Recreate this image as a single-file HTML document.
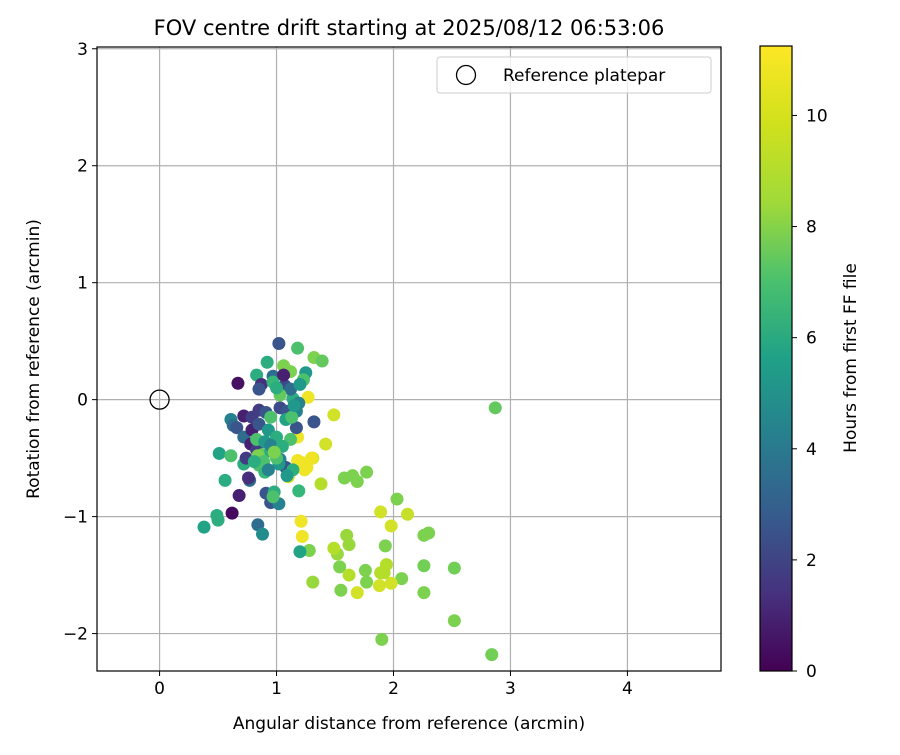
<!DOCTYPE html>
<html><head><meta charset="utf-8"><style>
body{margin:0;background:#fff}
svg text{font-family:"DejaVu Sans","Liberation Sans",sans-serif;fill:#000}
</style></head><body>
<svg id="c" width="900" height="750" xmlns="http://www.w3.org/2000/svg">
<defs><linearGradient id="vg" x1="0" y1="1" x2="0" y2="0">
<stop offset="0" stop-color="#440154"/><stop offset="0.125" stop-color="#46327e"/><stop offset="0.25" stop-color="#365c8d"/><stop offset="0.375" stop-color="#277f8e"/><stop offset="0.5" stop-color="#1fa187"/><stop offset="0.625" stop-color="#4ac16d"/><stop offset="0.75" stop-color="#a0da39"/><stop offset="0.875" stop-color="#d0e11c"/><stop offset="1" stop-color="#fde725"/></linearGradient></defs>
<g id="grid"></g><g id="pts"></g><g id="axes"></g>
</svg>
<script>
const xs=[2.87,2.84,2.52,2.52,2.26,2.30,2.26,2.26,2.07,2.03,2.12,1.98,1.93,1.94,1.92,1.98,1.88,1.89,1.89,1.90,1.77,1.76,1.69,1.55,1.54,1.52,1.49,1.62,1.62,1.60,1.58,1.65,1.69,1.77,1.49,1.42,1.38,1.31,1.27,1.21,1.22,1.28,1.31,1.20,1.19,1.18,1.22,1.26,1.30,1.24,1.18,1.10,1.32,1.39,1.18,1.06,1.12,1.25,1.23,1.02,1.32,0.92,0.97,0.83,0.87,0.85,0.67,0.68,0.62,0.49,0.50,0.38,0.51,0.61,0.56,0.61,0.63,0.66,0.72,0.72,0.84,0.88,0.91,0.95,1.02,0.98,0.97,0.77,0.76,0.72,0.79,0.85,0.91,1.03,1.09,1.17,1.14,1.19,1.07,1.12,1.20,0.79,0.85,0.93,1.00,1.12,1.17,0.78,0.83,0.88,0.95,1.03,1.08,1.14,0.74,0.85,0.90,1.09,1.02,0.83,0.90,0.95,0.84,0.89,0.81,0.95,1.03,0.97,1.00,1.08,1.13,1.06,1.00,1.05,1.15,0.93,0.98];
const ys=[-0.07,-2.18,-1.89,-1.44,-1.16,-1.14,-1.42,-1.65,-1.53,-0.85,-0.98,-1.08,-1.25,-1.41,-1.48,-1.57,-1.59,-1.48,-0.96,-2.05,-1.56,-1.46,-1.65,-1.63,-1.43,-1.32,-1.27,-1.50,-1.24,-1.16,-0.67,-0.65,-0.70,-0.62,-0.13,-0.38,-0.72,-0.50,0.02,-1.04,-1.17,-1.29,-1.56,-1.30,-0.78,-0.52,-0.54,-0.58,-0.50,-0.60,-0.32,-0.66,0.36,0.33,0.44,0.29,0.24,0.23,0.17,0.48,-0.19,0.32,0.20,0.21,0.13,0.09,0.14,-0.82,-0.97,-0.99,-1.03,-1.09,-0.46,-0.48,-0.69,-0.17,-0.22,-0.24,-0.32,-0.55,-1.07,-1.15,-0.80,-0.88,-0.89,-0.79,-0.83,-0.69,-0.67,-0.14,-0.15,-0.09,-0.11,-0.07,-0.10,-0.10,0.01,-0.03,0.12,0.09,0.13,-0.26,-0.21,-0.26,-0.32,-0.34,-0.24,-0.38,-0.43,-0.47,-0.44,-0.51,-0.58,-0.60,-0.50,-0.56,-0.62,-0.65,-0.55,-0.34,-0.36,-0.39,-0.48,-0.53,-0.53,-0.15,0.04,0.15,0.10,-0.17,-0.15,0.21,-0.50,-0.40,-0.05,-0.60,-0.45];
const hours=[8.5,8.8,9,8.8,9,9,8.8,9,9,9,10.3,10.5,9,10,10,10.5,10.5,10,10.5,9,9,9,10.5,9,9,9.5,10,10,9.5,9.5,9,9,9,9,10.5,10.5,10,10.5,11,11,11,9,9.5,6.5,7.5,11,11,11,11,11,11,10.5,9,8.5,8,9,9,6,8,3,3,7,4,7,1.5,3,0.5,1,0.3,7,7,6.5,6.5,8,7,5,4,3,4,7,4,5.5,3,3,5,7,8,4,1.5,1,2,2,3,2.5,3,5,7,5,2.5,4,6,1,3,6,7,8,3,1,2,8.5,7,5,3,7,2,8,7.5,6,6,8,6,5,9,8,7,8,8.5,7.5,7,6.5,8,1,8,7,6,5,9];
const xTicks=[0,1,2,3,4], yTicks=[-2,-1,0,1,2,3], cTicks=[0,2,4,6,8,10];
const X0=-0.535,X1=4.8,Y0=-2.32,Y1=3.015,L=97,R=721,T=47,B=671,HMAX=11.25;
const sx=v=>L+(v-X0)/(X1-X0)*(R-L), sy=v=>B-(v-Y0)/(Y1-Y0)*(B-T);
const cy=v=>671-v/HMAX*(671-46);
const NS='http://www.w3.org/2000/svg';
function mk(p,t,a){const e=document.createElementNS(NS,t);for(const k in a)e.setAttribute(k,a[k]);p.appendChild(e);return e;}
const vir=['#440154','#482878','#3e4989','#31688e','#26828e','#1f9e89','#35b779','#6ece58','#b5de2b','#fde725'];
function hex(h){return [1,3,5].map(i=>parseInt(h.substr(i,2),16));}
function col(h){let t=Math.max(0,Math.min(1,h/HMAX))*(vir.length-1);let i=Math.min(Math.floor(t),vir.length-2),f=t-i;const a=hex(vir[i]),b=hex(vir[i+1]);return 'rgb('+a.map((v,k)=>Math.round(v+(b[k]-v)*f)).join(',')+')';}
const g=document.getElementById('grid'),pg=document.getElementById('pts'),ax=document.getElementById('axes');
xTicks.forEach(v=>{const l=mk(g,'line',{x1:sx(v),x2:sx(v),y1:T,y2:B,stroke:'#b0b0b0','stroke-width':1.2});

mk(ax,'line',{x1:sx(v),x2:sx(v),y1:B,y2:B+5,stroke:'#000'});
const t=mk(ax,'text',{x:sx(v),y:B+23,'text-anchor':'middle','font-size':17});t.textContent=String(v).replace('-','−');
});
yTicks.forEach(v=>{const l=mk(g,'line',{x1:L,x2:R,y1:sy(v),y2:sy(v),stroke:'#b0b0b0','stroke-width':1.2});

mk(ax,'line',{x1:L-5,x2:L,y1:sy(v),y2:sy(v),stroke:'#000'});
const t=mk(ax,'text',{x:L-9,y:sy(v)+6,'text-anchor':'end','font-size':17});t.textContent=String(v).replace('-','−');
});
xs.forEach((x,i)=>{const c=mk(pg,'circle',{cx:sx(x),cy:sy(ys[i]),r:6.5,fill:col(hours[i])});
});
let rc=mk(pg,'circle',{cx:sx(0),cy:sy(0),r:9.5,fill:'none',stroke:'#000','stroke-width':1.3});

let fr=mk(ax,'rect',{x:L,y:T,width:R-L,height:B-T,fill:'none',stroke:'#000','stroke-width':1.2});

let lg=mk(ax,'g',{});
mk(lg,'rect',{x:437,y:57,width:274,height:36,rx:3,fill:'#fff','fill-opacity':0.8,stroke:'#ccc'});
mk(lg,'circle',{cx:466,cy:75,r:9.5,fill:'none',stroke:'#000','stroke-width':1.3});
let lt=mk(lg,'text',{x:503,y:81,'font-size':17});lt.textContent='Reference platepar';

let tt=mk(ax,'text',{x:409,y:35,'text-anchor':'middle','font-size':21});tt.textContent='FOV centre drift starting at 2025/08/12 06:53:06';

let xl=mk(ax,'text',{x:409,y:729,'text-anchor':'middle','font-size':17});xl.textContent='Angular distance from reference (arcmin)';

let yl=mk(ax,'text',{x:39,y:359,'text-anchor':'middle','font-size':17,transform:'rotate(-90 39 359)'});yl.textContent='Rotation from reference (arcmin)';

let cb=mk(ax,'rect',{x:760,y:46,width:32,height:625,fill:'url(#vg)',stroke:'#000','stroke-width':1.2});

cTicks.forEach(v=>{mk(ax,'line',{x1:792,x2:797,y1:cy(v),y2:cy(v),stroke:'#000'});
const t=mk(ax,'text',{x:806,y:cy(v)+6,'font-size':17});t.textContent=v;
});
let cl=mk(ax,'text',{x:856,y:358,'text-anchor':'middle','font-size':17,transform:'rotate(-90 856 358)'});cl.textContent='Hours from first FF file';

</script>
</body></html>
